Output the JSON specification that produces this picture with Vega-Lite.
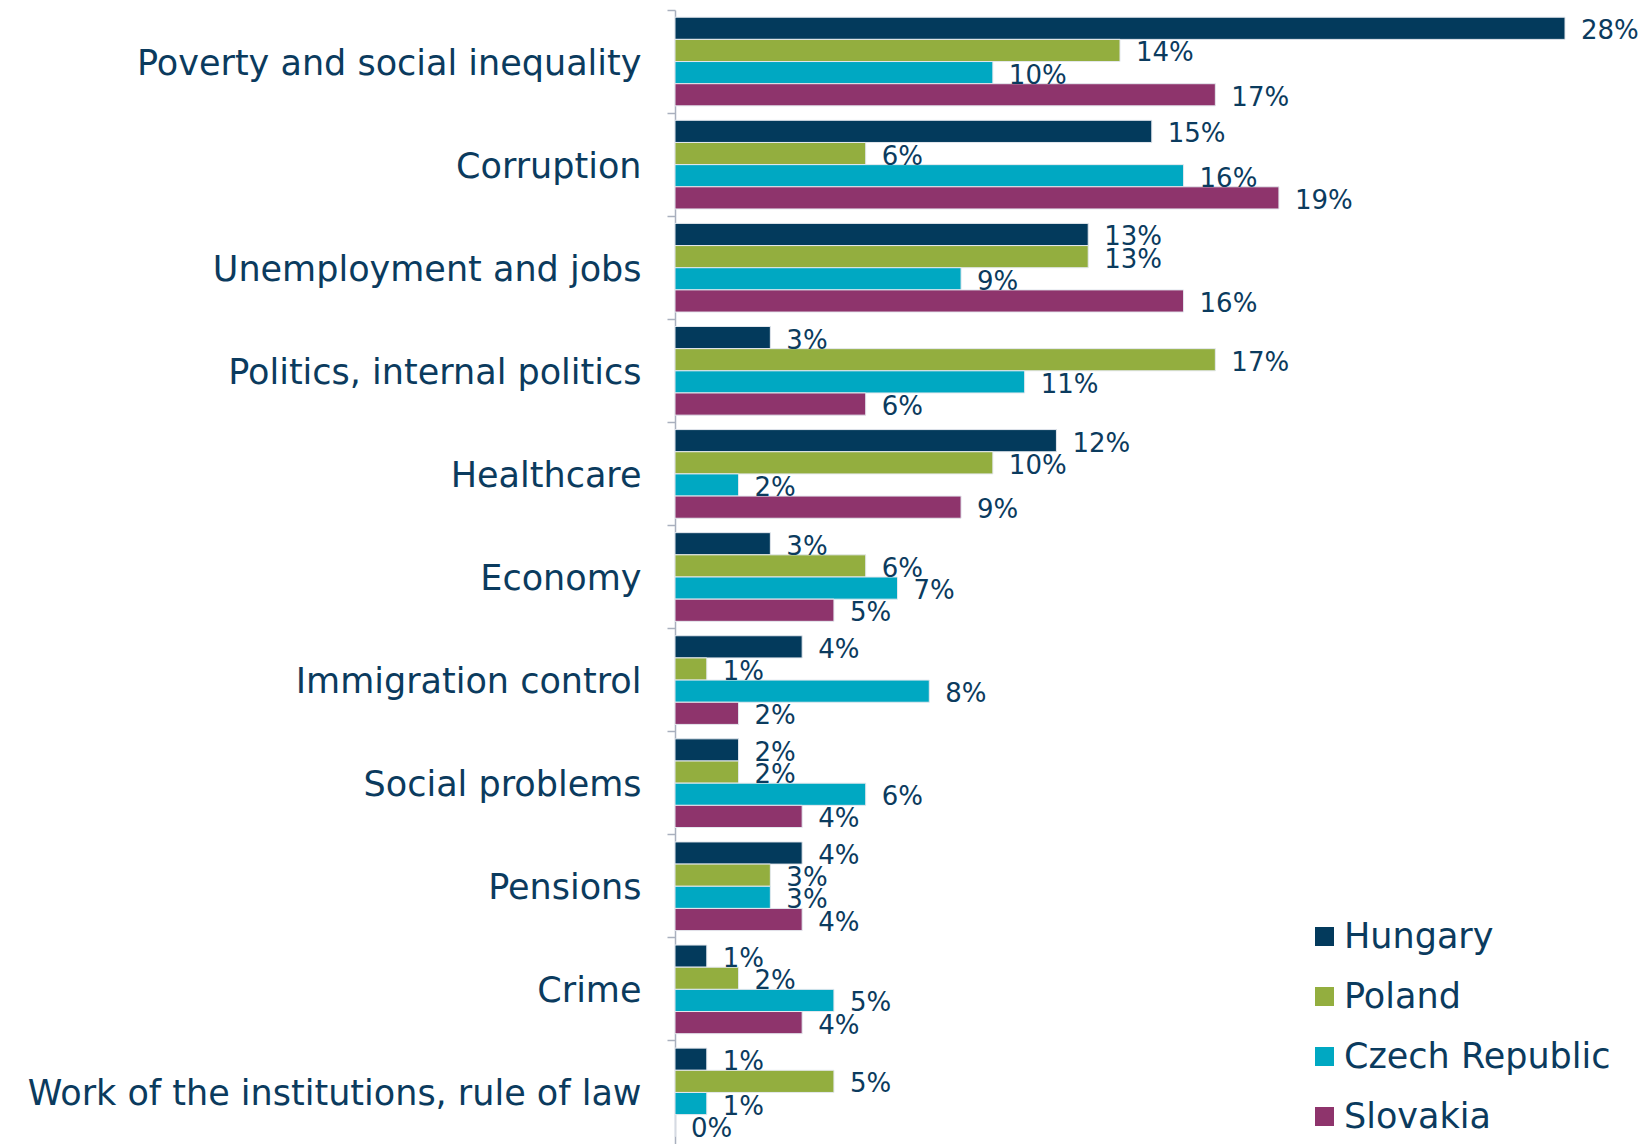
{
  "$schema": "https://vega.github.io/schema/vega-lite/v6.json",
  "width": 890,
  "height": 1134,
  "autosize": {"type": "none"},
  "padding": {"left": 675, "top": 10, "right": 78, "bottom": 0},
  "background": "white",
  "config": {"view": {"stroke": null}, "font": "DejaVu Sans"},
  "data": {"values": [
    {"issue": "Poverty and social inequality", "country": "Hungary", "value": 0.28},
    {"issue": "Poverty and social inequality", "country": "Poland", "value": 0.14},
    {"issue": "Poverty and social inequality", "country": "Czech Republic", "value": 0.10},
    {"issue": "Poverty and social inequality", "country": "Slovakia", "value": 0.17},
    {"issue": "Corruption", "country": "Hungary", "value": 0.15},
    {"issue": "Corruption", "country": "Poland", "value": 0.06},
    {"issue": "Corruption", "country": "Czech Republic", "value": 0.16},
    {"issue": "Corruption", "country": "Slovakia", "value": 0.19},
    {"issue": "Unemployment and jobs", "country": "Hungary", "value": 0.13},
    {"issue": "Unemployment and jobs", "country": "Poland", "value": 0.13},
    {"issue": "Unemployment and jobs", "country": "Czech Republic", "value": 0.09},
    {"issue": "Unemployment and jobs", "country": "Slovakia", "value": 0.16},
    {"issue": "Politics, internal politics", "country": "Hungary", "value": 0.03},
    {"issue": "Politics, internal politics", "country": "Poland", "value": 0.17},
    {"issue": "Politics, internal politics", "country": "Czech Republic", "value": 0.11},
    {"issue": "Politics, internal politics", "country": "Slovakia", "value": 0.06},
    {"issue": "Healthcare", "country": "Hungary", "value": 0.12},
    {"issue": "Healthcare", "country": "Poland", "value": 0.10},
    {"issue": "Healthcare", "country": "Czech Republic", "value": 0.02},
    {"issue": "Healthcare", "country": "Slovakia", "value": 0.09},
    {"issue": "Economy", "country": "Hungary", "value": 0.03},
    {"issue": "Economy", "country": "Poland", "value": 0.06},
    {"issue": "Economy", "country": "Czech Republic", "value": 0.07},
    {"issue": "Economy", "country": "Slovakia", "value": 0.05},
    {"issue": "Immigration control", "country": "Hungary", "value": 0.04},
    {"issue": "Immigration control", "country": "Poland", "value": 0.01},
    {"issue": "Immigration control", "country": "Czech Republic", "value": 0.08},
    {"issue": "Immigration control", "country": "Slovakia", "value": 0.02},
    {"issue": "Social problems", "country": "Hungary", "value": 0.02},
    {"issue": "Social problems", "country": "Poland", "value": 0.02},
    {"issue": "Social problems", "country": "Czech Republic", "value": 0.06},
    {"issue": "Social problems", "country": "Slovakia", "value": 0.04},
    {"issue": "Pensions", "country": "Hungary", "value": 0.04},
    {"issue": "Pensions", "country": "Poland", "value": 0.03},
    {"issue": "Pensions", "country": "Czech Republic", "value": 0.03},
    {"issue": "Pensions", "country": "Slovakia", "value": 0.04},
    {"issue": "Crime", "country": "Hungary", "value": 0.01},
    {"issue": "Crime", "country": "Poland", "value": 0.02},
    {"issue": "Crime", "country": "Czech Republic", "value": 0.05},
    {"issue": "Crime", "country": "Slovakia", "value": 0.04},
    {"issue": "Work of the institutions, rule of law", "country": "Hungary", "value": 0.01},
    {"issue": "Work of the institutions, rule of law", "country": "Poland", "value": 0.05},
    {"issue": "Work of the institutions, rule of law", "country": "Czech Republic", "value": 0.01},
    {"issue": "Work of the institutions, rule of law", "country": "Slovakia", "value": 0.0}
  ]},
  "encoding": {
    "y": {"field": "issue", "type": "nominal", "sort": null, "scale": {"paddingInner": 0, "paddingOuter": 0}},
    "yOffset": {"field": "country", "type": "nominal", "sort": ["Hungary", "Poland", "Czech Republic", "Slovakia"], "scale": {"paddingInner": 0, "paddingOuter": 0.3256}},
    "x": {"field": "value", "type": "quantitative", "scale": {"domain": [0, 0.28]}, "axis": null}
  },
  "layer": [
    {
      "mark": {"type": "bar", "stroke": "#e4e8ee", "strokeWidth": 1},
      "encoding": {
        "y": {"field": "issue", "type": "nominal", "sort": null, "title": null,
          "axis": {"orient": "left", "ticks": false, "domain": true, "domainColor": "#A9B0BE", "domainWidth": 1.5,
            "labelFontSize": 35, "labelColor": "#0B3B5E", "labelPadding": 34, "labelLimit": 700, "labelOffset": 2, "grid": false}},
        "color": {"field": "country", "type": "nominal",
          "scale": {"domain": ["Hungary", "Poland", "Czech Republic", "Slovakia"], "range": ["#033A5C", "#93AE3F", "#00A8C2", "#8E346C"]},
          "legend": {"orient": "none", "legendX": 632, "legendY": 909, "title": null, "padding": 0,
            "symbolType": "square", "symbolSize": 361, "symbolStrokeWidth": 0,
            "labelFontSize": 35, "labelColor": "#0B3B5E", "labelOffset": 2, "rowPadding": 24, "labelLimit": 400}}
      }
    },
    {
      "mark": {"type": "text", "align": "left", "baseline": "middle", "dx": 16, "dy": 3, "fontSize": 26, "color": "#0B3B5E"},
      "encoding": {
        "y": {"field": "issue", "type": "nominal", "sort": null, "title": null,
          "axis": {"orient": "left", "labels": false, "ticks": true, "tickSize": 8, "tickColor": "#A9B0BE", "tickWidth": 1.5, "domain": false, "bandPosition": 0, "grid": false}},
        "text": {"field": "value", "type": "quantitative", "format": ".0%"}
      }
    }
  ],
  "resolve": {"axis": {"y": "independent"}}
}
